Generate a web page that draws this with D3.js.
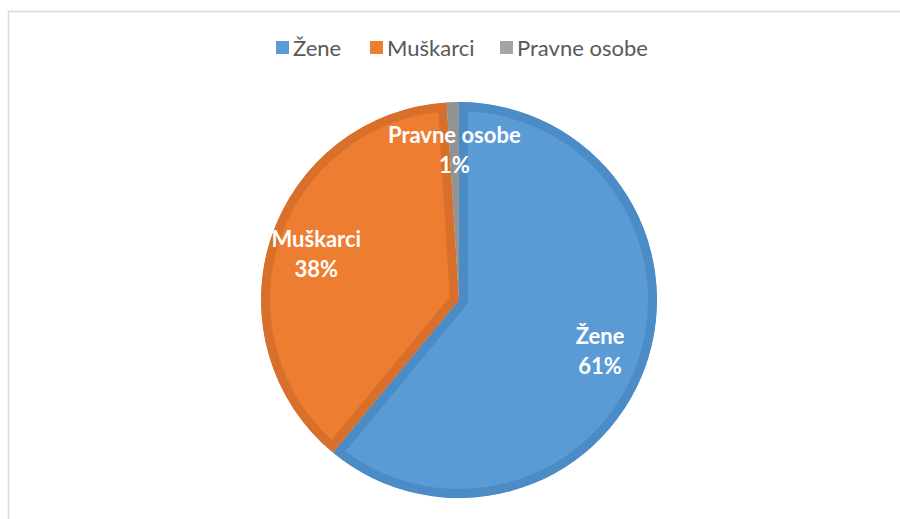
<!DOCTYPE html>
<html lang="hr">
<head>
  <meta charset="UTF-8">
  <title>Pie</title>
  <script src="https://d3js.org/d3.v7.min.js"></script>
  <style>
    body { margin: 0; background: #fff; }
  </style>
</head>
<body>
<div class="canvas"></div>
<script>
  const categories = ['Žene', 'Muškarci', 'Pravne osobe']
  const values = [61, 38, 1]
  const fills = ['#5b9bd5', '#ed7d31', '#a5a5a5']
  const edges = ['#4c8cc6', '#d86f2a', '#939393']

  const W = 900, H = 519
  const cx = 459, cy = 300, R = 198

  const svg = d3.select('.canvas')
    .append('svg')
    .attr('width', W)
    .attr('height', H)

  // chart frame (only top and left edge visible)
  svg.append('rect')
    .attr('x', 8.5).attr('y', 11.5)
    .attr('width', 1000).attr('height', 1000)
    .attr('fill', 'none')
    .attr('stroke', '#d9d9d9')
    .attr('stroke-width', 1.5)

  const data = categories.map((c, i) => ({ name: c, value: values[i], i }))

  const pie = d3.pie()
    .sort(null)
    .value(d => d.value)

  const arc = d3.arc().innerRadius(0).outerRadius(R)
  const labelArc = d3.arc().innerRadius(150).outerRadius(150)

  const g = svg.append('g')
    .attr('transform', `translate(${cx}, ${cy})`)

  const arcs = pie(data)
  const defs = svg.append('defs')
  arcs.forEach((a, i) => {
    defs.append('clipPath').attr('id', 'clip' + i)
      .append('path').attr('d', arc(a))
  })

  // slices with an inner border (stroke clipped to the slice)
  g.selectAll('path.slice')
    .data(arcs)
    .enter()
    .append('path')
    .attr('class', 'slice')
    .attr('d', arc)
    .attr('fill', d => fills[d.data.i])
    .attr('stroke', d => edges[d.data.i])
    .attr('stroke-width', 18)
    .attr('stroke-linejoin', 'miter')
    .attr('clip-path', (d, i) => `url(#clip${i})`)

  // data labels
  const lab = g.selectAll('text.lab')
    .data(arcs)
    .enter()
    .append('text')
    .attr('class', 'lab')
    .attr('transform', d => `translate(${labelArc.centroid(d)})`)
    .attr('text-anchor', 'middle')
    .attr('fill', '#fff')
    .style('font-family', 'Lato, "Open Sans", sans-serif')
    .style('font-weight', 'bold')
    .style('font-size', '22px')
  lab.append('tspan')
    .attr('x', 0).attr('y', -7)
    .text(d => d.data.name)
  lab.append('tspan')
    .attr('x', 0).attr('y', 23)
    .text(d => d.data.value + '%')

  // legend
  const legX = [276, 370, 500]
  const leg = svg.append('g')
  const item = leg.selectAll('g')
    .data(data)
    .enter()
    .append('g')
    .attr('transform', (d, i) => `translate(${legX[i]}, 41)`)
  item.append('rect')
    .attr('width', 13).attr('height', 13)
    .attr('fill', d => fills[d.i])
  item.append('text')
    .attr('x', 17).attr('y', 15)
    .attr('fill', '#595959')
    .style('font-family', 'Lato, "Open Sans", sans-serif')
    .style('font-size', '22px')
    .text(d => d.name)
</script>
</body>
</html>
